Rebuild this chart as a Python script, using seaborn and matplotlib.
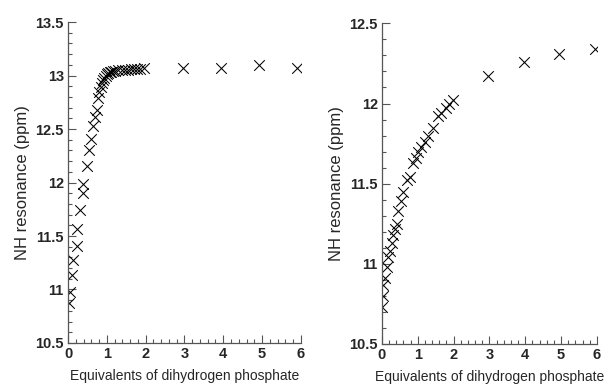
import numpy as np
import pandas as pd
import seaborn as sns
import matplotlib.pyplot as plt
from matplotlib.ticker import MultipleLocator

# left titration (equivalents, NH shift in ppm)
left_eq = [0.03, 0.05, 0.10, 0.14, 0.22, 0.24, 0.31, 0.38, 0.39, 0.48,
           0.55, 0.59, 0.64, 0.70, 0.74, 0.76, 0.81, 0.85, 0.88, 0.91,
           0.94, 0.97, 1.00, 1.04, 1.08, 1.12, 1.17, 1.22, 1.30, 1.38,
           1.46, 1.54, 1.62, 1.70, 1.78, 1.86, 1.95, 2.97, 3.94, 4.93, 5.91]
left_nh = [10.87, 10.98, 11.14, 11.28, 11.41, 11.57, 11.74, 11.90, 11.99, 12.15,
           12.30, 12.41, 12.53, 12.61, 12.68, 12.79, 12.85, 12.89, 12.93, 12.96,
           12.98, 13.00, 13.01, 13.02, 13.03, 13.03, 13.04, 13.04, 13.05, 13.05,
           13.05, 13.05, 13.06, 13.06, 13.06, 13.06, 13.07, 13.07, 13.07, 13.10, 13.07]

# right titration
right_eq = [0.00, 0.03, 0.04, 0.08, 0.13, 0.17, 0.22, 0.27, 0.32, 0.36,
            0.41, 0.46, 0.53, 0.60, 0.69, 0.78, 0.87, 0.96, 1.00, 1.10,
            1.19, 1.28, 1.42, 1.56, 1.65, 1.79, 1.87, 1.99, 2.97, 3.97, 4.94, 5.95]
right_nh = [10.73, 10.80, 10.87, 10.91, 10.98, 11.04, 11.08, 11.13, 11.18, 11.22,
            11.25, 11.33, 11.39, 11.45, 11.52, 11.54, 11.63, 11.66, 11.70, 11.73,
            11.76, 11.80, 11.85, 11.92, 11.94, 11.97, 12.00, 12.02, 12.17, 12.26, 12.31, 12.34]

xlabel = 'Equivalents of dihydrogen phosphate'
ylabel = 'NH resonance (ppm)'

sns.set_style('ticks')
plt.rcParams['font.family'] = ['Liberation Sans', 'DejaVu Sans']

fig = plt.figure(figsize=(6.16, 3.89), dpi=100)
ax1 = fig.add_axes([0.1104, 0.1183, 0.378, 0.825])
ax2 = fig.add_axes([0.6201, 0.1157, 0.349, 0.8243])

panels = [
    (ax1, left_eq, left_nh, (10.5, 13.5)),
    (ax2, right_eq, right_nh, (10.5, 12.5)),
]

for ax, xs, ys, ylim in panels:
    df = pd.DataFrame({'eq': xs, 'nh': ys})
    sns.scatterplot(data=df, x='eq', y='nh', ax=ax, marker='x', color='black',
                    s=58, linewidth=0.75)
    ax.set_xlim(0, 6)
    ax.set_ylim(*ylim)
    ax.xaxis.set_major_locator(MultipleLocator(1))
    ax.xaxis.set_minor_locator(MultipleLocator(0.2))
    ax.yaxis.set_major_locator(MultipleLocator(0.5))
    ax.yaxis.set_minor_locator(MultipleLocator(0.1))
    ax.yaxis.set_major_formatter(plt.FuncFormatter(lambda v, p: f'{v:g}'))
    ax.tick_params(which='both', direction='in', color='#555555', width=0.8,
                   labelsize=10.5, pad=3)
    ax.tick_params(which='major', length=6)
    ax.tick_params(which='minor', length=3)
    for lab in ax.get_xticklabels() + ax.get_yticklabels():
        lab.set_fontweight('bold')
    sns.despine(ax=ax)
    for sp in ['left', 'bottom']:
        ax.spines[sp].set_color('#555555')
        ax.spines[sp].set_linewidth(0.9)
    ax.set_xlabel(xlabel, fontsize=10, labelpad=6)
    ax.set_ylabel(ylabel, fontsize=12, labelpad=4)

fig.savefig('out.png', dpi=100)
